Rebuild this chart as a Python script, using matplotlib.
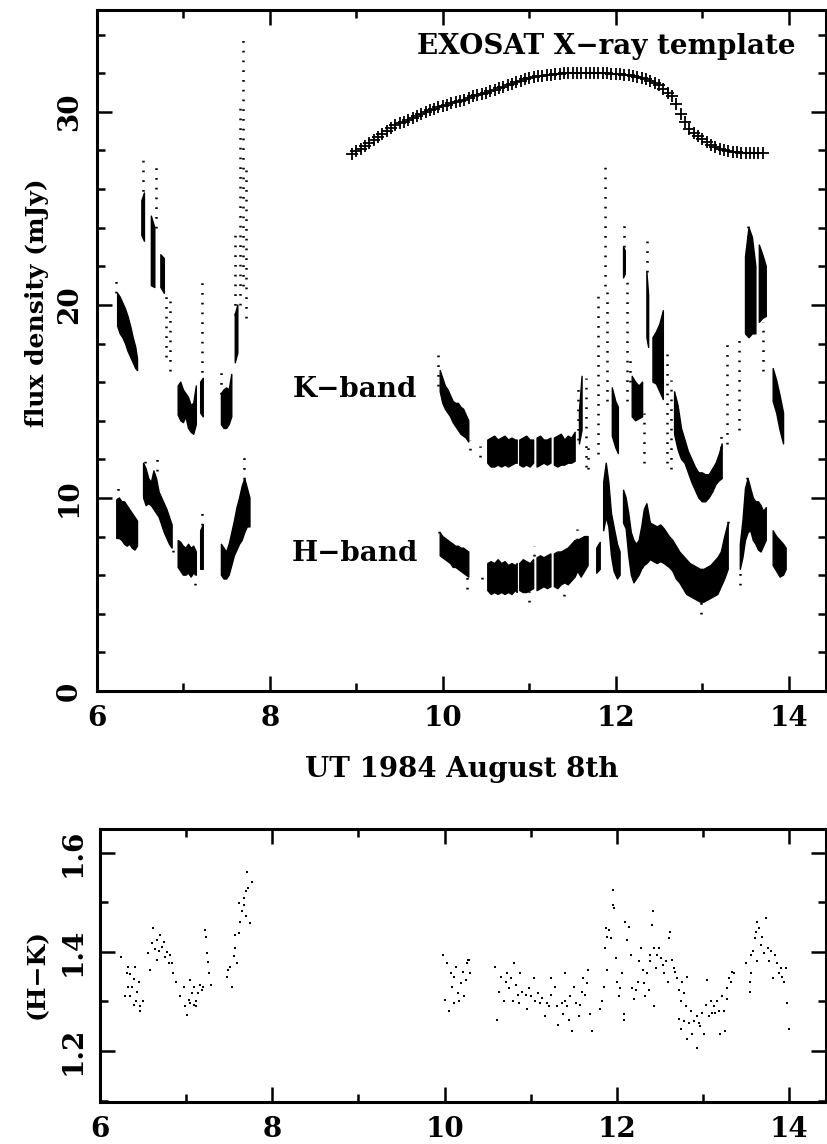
"""
Infrared light curves (K and H band) with the EXOSAT X-ray template,
and the (H-K) colour curve underneath.  UT 1984 August 8th.
"""
import numpy as np
import matplotlib.pyplot as plt
from matplotlib.ticker import MultipleLocator

nan = np.nan
FONT = "DejaVu Serif"

# --- EXOSAT X-ray template (crosses) ---
xray_t = [8.95, 9.00, 9.05, 9.10, 9.15, 9.20, 9.25, 9.30, 9.35, 9.40, 9.45, 9.50,
          9.55, 9.60, 9.65, 9.70, 9.75, 9.80, 9.85, 9.90, 9.95, 10.00, 10.05, 10.10,
          10.15, 10.20, 10.25, 10.30, 10.35, 10.40, 10.45, 10.50, 10.55, 10.60, 10.65,
          10.70, 10.75, 10.80, 10.85, 10.90, 10.95, 11.00, 11.05, 11.10, 11.15, 11.20,
          11.25, 11.30, 11.35, 11.40, 11.45, 11.50, 11.55, 11.60, 11.65, 11.70, 11.75,
          11.80, 11.85, 11.90, 11.95, 12.00, 12.05, 12.10, 12.15, 12.20, 12.25, 12.30,
          12.35, 12.40, 12.45, 12.50, 12.55, 12.60, 12.65, 12.70, 12.75, 12.80, 12.85,
          12.90, 12.95, 13.00, 13.05, 13.10, 13.15, 13.20, 13.25, 13.30, 13.35, 13.40,
          13.45, 13.50, 13.55, 13.60, 13.65, 13.70]
xray_f = [27.8, 27.95, 28.1, 28.25, 28.4, 28.55, 28.7, 28.85, 29.0, 29.15, 29.3, 29.4,
          29.5, 29.6, 29.7, 29.8, 29.9, 30.0, 30.1, 30.15, 30.25, 30.3, 30.35, 30.45,
          30.5, 30.55, 30.6, 30.7, 30.8, 30.85, 30.95, 31.0, 31.1, 31.15, 31.25,
          31.3, 31.4, 31.45, 31.55, 31.6, 31.7, 31.75, 31.8, 31.85, 31.85, 31.9,
          31.9, 31.95, 31.95, 32.0, 32.0, 32.0, 32.0, 32.0, 32.0, 32.0, 32.0,
          32.0, 32.0, 32.0, 31.95, 31.95, 31.95, 31.9, 31.9, 31.85, 31.8, 31.75,
          31.7, 31.6, 31.5, 31.4, 31.2, 31.0, 30.8, 30.4, 29.9, 29.45, 29.1,
          28.9, 28.75, 28.6, 28.45, 28.3, 28.2, 28.1, 28.0, 27.95, 27.9, 27.9,
          27.85, 27.85, 27.85, 27.85, 27.85, 27.85]

# --- K band: densely sampled stretches (time, lower, upper envelope), nan = gap ---
k_t = [6.24, 6.27, 6.30, 6.33, 6.36, 6.39, 6.42, 6.45, 6.47, nan,
       6.52, 6.55, nan, 6.63, 6.67, nan, 6.74, 6.78, nan,
       6.94, 6.97, 7.00, 7.03, 7.06, 7.09, 7.12, 7.15, nan, 7.20, 7.23, nan,
       7.44, 7.47, 7.50, 7.53, 7.56, nan, 7.60, 7.63, nan,
       9.97, 10.00, 10.03, 10.06, 10.09, 10.12, 10.15, 10.18, 10.21, 10.24, 10.27, 10.30, nan,
       10.52, 10.56, 10.60, 10.64, 10.68, 10.72, 10.76, 10.80, 10.84, 10.86, nan,
       10.89, 10.93, 10.97, 11.01, 11.05, nan,
       11.09, 11.13, 11.17, 11.21, 11.25, nan,
       11.29, 11.33, 11.37, 11.41, 11.45, 11.49, 11.53, nan,
       11.58, 11.61, nan, 11.96, 12.00, 12.03, nan, 12.09, 12.11, nan,
       12.19, 12.23, 12.27, 12.31, nan, 12.36, 12.38, nan,
       12.43, 12.47, 12.51, 12.55, nan,
       12.68, 12.72, 12.76, 12.80, 12.84, 12.88, 12.92, 12.96, 13.00, 13.04, 13.08,
       13.12, 13.16, 13.20, 13.23, nan,
       13.50, 13.54, 13.58, 13.62, nan, 13.66, 13.70, 13.74, nan,
       13.82, 13.86, 13.90, 13.94]
k_lo = [18.9, 18.5, 18.3, 18.0, 17.6, 17.3, 17.0, 16.7, 16.6, nan,
        23.6, 23.3, nan, 21.0, 20.9, nan, 20.9, 20.6, nan,
        14.3, 14.0, 13.9, 14.2, 13.6, 13.4, 13.3, 13.8, nan, 14.4, 14.2, nan,
        13.8, 13.6, 13.6, 13.8, 14.2, nan, 17.0, 17.5, nan,
        15.5, 14.9, 14.6, 14.4, 14.2, 13.9, 13.7, 13.5, 13.3, 13.2, 13.1, 12.9, nan,
        11.8, 11.6, 11.6, 11.7, 11.6, 11.7, 11.6, 11.7, 11.8, 11.8, nan,
        11.7, 11.6, 11.7, 11.6, 11.8, nan,
        11.6, 11.7, 11.8, 11.7, 11.8, nan,
        11.7, 11.6, 11.7, 11.7, 11.8, 11.8, 11.9, nan,
        12.8, 13.5, nan, 13.2, 12.6, 12.3, nan, 21.4, 21.6, nan,
        14.2, 14.0, 14.1, 14.2, nan, 18.3, 17.8, nan,
        16.0, 15.9, 15.5, 15.1, nan,
        13.3, 12.5, 12.0, 11.8, 11.3, 10.8, 10.4, 10.0, 9.8, 9.8, 10.0,
        10.3, 10.7, 10.9, 11.0, nan,
        18.5, 18.3, 18.5, 18.5, nan, 19.1, 19.3, 19.4, nan,
        15.0, 14.4, 13.5, 12.8]
k_hi = [20.6, 20.4, 20.1, 19.8, 19.4, 18.9, 18.3, 17.8, 17.2, nan,
        25.4, 25.8, nan, 24.6, 24.0, nan, 22.6, 22.4, nan,
        15.8, 16.0, 15.6, 15.4, 15.2, 14.8, 14.9, 15.8, nan, 16.0, 16.2, nan,
        15.4, 15.6, 15.7, 15.6, 16.4, nan, 19.5, 20.0, nan,
        16.6, 16.2, 15.8, 15.6, 15.3, 15.0, 14.9, 14.9, 14.7, 14.6, 14.3, 14.0, nan,
        13.0, 13.1, 13.2, 13.0, 13.1, 13.2, 13.0, 13.1, 13.0, 13.0, nan,
        13.0, 13.1, 13.2, 13.0, 13.0, nan,
        13.1, 13.2, 13.0, 13.0, 13.1, nan,
        13.1, 13.2, 13.3, 13.0, 13.2, 13.1, 13.4, nan,
        14.5, 16.3, nan, 15.7, 15.0, 14.7, nan, 23.0, 22.8, nan,
        16.3, 16.0, 15.8, 16.0, nan, 21.7, 20.5, nan,
        18.3, 18.6, 19.0, 19.7, nan,
        15.5, 14.8, 13.6, 13.0, 12.4, 12.0, 11.6, 11.3, 11.3, 11.2, 11.2,
        11.5, 11.8, 12.3, 12.8, nan,
        22.5, 24.0, 23.5, 22.0, nan, 23.1, 22.6, 22.0, nan,
        16.7, 16.1, 15.3, 14.4]

# --- K band: sparsely sampled flare streaks ---
ks_t = [6.22, 6.53, 6.68, 6.80, 6.85, 7.21, 7.44, 7.60, 7.66, 7.69, 7.73,
        9.94, 10.31, 10.43, 11.56, 11.65, 11.68, 11.80, 11.87, 11.90, 12.10, 12.13,
        12.16, 12.33, 12.36, 12.59, 12.64, 13.22, 13.29, 13.43, 13.53, 13.70]
ks_lo = [20.6, 25.4, 24.0, 17.3, 16.6, 16.0, 15.4, 19.5, 20.0, 21.0, 19.3,
         15.8, 12.5, 12.1, 13.0, 11.6, 11.5, 12.3, 21.0, 15.0, 23.0, 15.0,
         16.0, 11.8, 21.7, 11.8, 11.5, 12.6, 12.8, 13.5, 22.5, 16.6]
ks_hi = [21.3, 27.6, 27.3, 20.8, 20.6, 21.2, 16.5, 24.0, 30.5, 34.0, 27.0,
         17.8, 13.0, 12.7, 15.8, 16.2, 13.0, 20.6, 27.2, 21.0, 24.4, 21.4,
         17.4, 14.4, 23.5, 17.8, 16.1, 13.5, 18.1, 18.5, 24.4, 19.1]

# --- H band: densely sampled stretches ---
h_t = [6.23, 6.26, 6.29, 6.32, 6.35, 6.38, 6.41, 6.44, 6.47, nan,
       6.54, 6.57, 6.60, 6.63, 6.66, 6.69, 6.72, 6.75, 6.78, 6.81, 6.84, 6.87, nan,
       6.94, 6.97, 7.00, 7.03, 7.06, 7.09, 7.12, 7.15, nan, 7.20, 7.23, nan,
       7.44, 7.47, 7.50, 7.53, 7.56, 7.59, 7.62, 7.65, 7.68, 7.71, 7.74, 7.77, nan,
       9.97, 10.00, 10.03, 10.06, 10.09, 10.12, 10.15, 10.18, 10.21, 10.24, 10.27, 10.30, nan,
       10.52, 10.56, 10.60, 10.64, 10.68, 10.72, 10.76, 10.80, 10.84, 10.86, nan,
       10.89, 10.93, 10.97, 11.01, 11.05, nan,
       11.09, 11.13, 11.17, 11.21, 11.25, nan,
       11.29, 11.33, 11.37, 11.41, 11.45, 11.49, 11.53, 11.56, 11.60, 11.64, 11.68, nan,
       11.78, 11.82, nan,
       11.86, 11.89, 11.92, 11.95, 11.98, 12.02, 12.05, nan,
       12.09, 12.12, 12.15, 12.18, 12.21, 12.24, 12.27, 12.30, 12.33, 12.36, 12.40,
       12.44, 12.48, 12.52, 12.56, 12.59, 12.62, 12.66, 12.70, 12.74, 12.78, 12.82,
       12.86, 12.90, 12.94, 12.98, 13.02, 13.06, 13.10, 13.14, 13.18, 13.22, 13.26, 13.30, nan,
       13.44, 13.47, 13.50, 13.53, 13.56, 13.59, 13.62, 13.65, 13.68, 13.71, 13.74, nan,
       13.82, 13.86, 13.90, 13.94, 13.97]
h_lo = [7.9, 7.9, 7.8, 7.6, 7.5, 7.6, 7.4, 7.3, 7.5, nan,
        10.0, 9.6, 9.7, 9.6, 9.4, 9.2, 9.0, 8.6, 8.2, 7.9, 7.6, 7.4, nan,
        6.4, 6.2, 6.0, 6.0, 6.1, 5.9, 6.1, 6.0, nan, 6.3, 6.3, nan,
        6.0, 5.8, 5.8, 6.0, 6.5, 7.0, 7.3, 7.6, 7.8, 8.2, 8.5, 8.5, nan,
        7.0, 6.9, 6.8, 6.7, 6.6, 6.4, 6.4, 6.3, 6.2, 6.1, 6.0, 5.9, nan,
        5.2, 5.0, 5.1, 5.0, 5.1, 5.0, 5.1, 5.0, 5.2, 5.1, nan,
        5.2, 5.1, 5.1, 5.2, 5.3, nan,
        5.2, 5.3, 5.4, 5.3, 5.4, nan,
        5.4, 5.3, 5.5, 5.6, 5.5, 5.7, 5.9, 6.2, 5.9, 6.2, 6.5, nan,
        6.1, 6.3, nan,
        8.3, 9.0, 8.5, 7.0, 6.2, 5.8, 6.0, nan,
        8.7, 8.4, 7.0, 6.0, 5.6, 5.8, 6.0, 6.3, 6.5, 6.6, 6.8,
        6.7, 6.6, 6.7, 6.6, 6.5, 6.4, 6.2, 5.8, 5.6, 5.3, 5.0,
        4.9, 4.8, 4.7, 4.6, 4.6, 4.7, 4.8, 4.9, 5.0, 5.4, 5.8, 6.3, nan,
        6.3, 6.9, 7.8, 8.2, 8.3, 7.8, 7.6, 7.3, 7.2, 7.5, 7.8, nan,
        6.5, 6.2, 5.9, 6.0, 6.3]
h_hi = [9.9, 10.0, 9.8, 9.8, 9.6, 9.4, 9.2, 9.0, 8.8, nan,
        11.8, 11.5, 11.0, 10.8, 11.4, 11.0, 10.3, 10.0, 9.7, 9.4, 9.0, 8.6, nan,
        7.8, 7.7, 7.5, 7.4, 7.6, 7.4, 7.5, 7.2, nan, 8.3, 8.6, nan,
        7.6, 7.4, 7.2, 7.6, 8.2, 8.8, 9.5, 10.0, 10.6, 11.0, 10.5, 10.0, nan,
        8.2, 8.0, 7.9, 7.8, 7.7, 7.6, 7.5, 7.5, 7.4, 7.4, 7.3, 7.2, nan,
        6.6, 6.7, 6.6, 6.8, 6.6, 6.7, 6.5, 6.6, 6.5, 6.6, nan,
        6.6, 6.8, 6.7, 6.6, 6.8, nan,
        6.9, 7.0, 6.9, 7.0, 7.1, nan,
        7.1, 7.2, 7.2, 7.3, 7.4, 7.6, 7.8, 7.8, 7.9, 8.0, 8.0, nan,
        7.4, 7.7, nan,
        10.8, 11.8, 10.8, 9.2, 8.5, 7.6, 7.2, nan,
        10.4, 10.0, 9.2, 8.2, 7.8, 7.6, 7.8, 8.5, 9.4, 9.7, 8.7,
        8.6, 8.5, 8.6, 8.4, 8.2, 8.0, 7.8, 7.5, 7.2, 7.0, 6.8,
        6.6, 6.5, 6.4, 6.3, 6.3, 6.4, 6.5, 6.7, 6.9, 7.2, 8.0, 8.7, nan,
        7.6, 8.8, 10.5, 11.0, 10.5, 10.0, 9.8, 9.8, 9.6, 9.3, 9.5, nan,
        8.3, 8.0, 7.8, 7.6, 7.4]

# --- H band: sparse points/streaks ---
hs_t = [6.25, 6.56, 6.69, 6.88, 7.14, 7.22, 7.70, 9.96, 10.28, 10.45, 11.00, 11.05,
        11.40, 11.55, 12.98, 13.30, 13.44, 13.52]
hs_lo = [9.9, 11.8, 11.4, 7.2, 5.5, 8.6, 11.0, 8.2, 5.3, 5.8, 4.6, 7.0,
         4.9, 7.8, 4.0, 8.7, 5.5, 11.0]
hs_hi = [10.5, 12.3, 12.2, 7.6, 6.0, 9.2, 12.5, 8.6, 5.9, 6.0, 5.2, 7.5,
         5.4, 8.4, 4.6, 9.0, 6.1, 11.3]

# --- (H-K) colour ---
hk_t = [6.24, 6.29, 6.31, 6.33, 6.35, 6.37, 6.39, 6.41, 6.43, 6.45, 6.46, 6.39, 6.35,
        6.50, 6.46, 6.42, 6.33,
        6.58, 6.56, 6.62, 6.60, 6.64, 6.66, 6.68, 6.70, 6.72, 6.74, 6.76, 6.78, 6.80,
        6.81, 6.83, 6.85, 6.88, 6.66,
        6.93, 6.97, 7.01, 6.99, 7.03, 7.05, 7.07, 7.09, 7.11, 7.12, 7.14, 7.16, 7.18,
        7.20, 7.22, 7.23, 7.24, 7.25, 7.27, 7.29, 7.05, 7.09,
        7.47, 7.49, 7.51, 7.53, 7.55, 7.57, 7.59, 7.57, 7.61, 7.63, 7.65, 7.61, 7.67,
        7.69, 7.70, 7.72, 7.74, 7.76, 7.71, 7.67,
        9.98, 10.03, 10.07, 10.09, 10.11, 10.13, 10.15, 10.19, 10.21, 10.05, 10.11,
        10.23, 10.27, 10.25, 10.01, 10.17, 10.26, 10.30, 10.28,
        10.59, 10.61, 10.63, 10.65, 10.69, 10.71, 10.73, 10.75, 10.77, 10.79, 10.81,
        10.83, 10.85, 10.86, 10.88, 10.90, 10.94, 10.96, 10.98, 11.00, 11.04, 11.05,
        11.09, 11.11, 11.13, 11.17, 11.21, 11.23, 11.24, 11.28, 11.30, 11.32, 11.36,
        11.38, 11.40, 11.42, 11.44, 11.46, 11.48, 11.50, 11.52, 11.56, 11.57, 11.59,
        11.61, 11.63, 11.65, 11.67, 11.71, 11.69, 11.19, 11.40,
        11.81, 11.83, 11.85, 11.86, 11.87, 11.89, 11.91, 11.93, 11.95, 11.95, 11.97,
        11.99, 12.00, 12.02, 12.04, 12.06, 12.08, 12.08, 12.10, 12.12, 12.14, 12.16,
        12.18, 11.89,
        12.20, 12.22, 12.24, 12.26, 12.28, 12.30, 12.31, 12.33, 12.35, 12.37, 12.39,
        12.41, 12.42, 12.43, 12.45, 12.47, 12.49, 12.51, 12.53, 12.55, 12.57, 12.59,
        12.60, 12.62, 12.64, 12.66, 12.68, 12.70, 12.43, 12.39,
        12.72, 12.74, 12.76, 12.78, 12.80, 12.82, 12.72, 12.74, 12.78, 12.82, 12.84,
        12.86, 12.87, 12.89, 12.93, 12.93, 12.95, 12.97, 12.99, 13.01, 13.03, 13.05,
        13.07, 13.09, 13.11, 13.13, 13.14, 13.16, 13.18, 13.20, 13.22, 13.24, 13.26,
        13.28, 13.30, 13.32, 13.34, 13.36, 13.28,
        13.50, 13.54, 13.56, 13.54, 13.58, 13.60, 13.62, 13.63, 13.65, 13.67, 13.69,
        13.71, 13.73, 13.75, 13.77, 13.79, 13.81, 13.84, 13.86, 13.88, 13.90, 13.92,
        13.94, 13.96, 13.98, 14.00, 13.56, 13.63]
hk_v = [1.39, 1.31, 1.357, 1.37, 1.355, 1.33, 1.345, 1.37, 1.32, 1.34, 1.29, 1.293, 1.31,
        1.30, 1.28, 1.30, 1.33,
        1.364, 1.397, 1.448, 1.418, 1.405, 1.425, 1.401, 1.435, 1.41, 1.42, 1.39, 1.40,
        1.377, 1.394, 1.377, 1.357, 1.34, 1.384,
        1.31, 1.33, 1.273, 1.29, 1.303, 1.344, 1.317, 1.33, 1.30, 1.29, 1.317, 1.334,
        1.324, 1.33, 1.445, 1.43, 1.398, 1.38, 1.357, 1.334, 1.297, 1.293,
        1.35, 1.364, 1.37, 1.33, 1.391, 1.408, 1.377, 1.435, 1.438, 1.461, 1.482, 1.499,
        1.495, 1.472, 1.522, 1.529, 1.458, 1.542, 1.562, 1.509,
        1.394, 1.377, 1.357, 1.33, 1.35, 1.37, 1.317, 1.337, 1.36, 1.28, 1.297,
        1.31, 1.384, 1.344, 1.303, 1.30, 1.377, 1.357, 1.384,
        1.370, 1.262, 1.32, 1.35, 1.30, 1.34, 1.357, 1.327, 1.347, 1.30, 1.377,
        1.334, 1.313, 1.297, 1.357, 1.32, 1.313, 1.284, 1.327, 1.31, 1.347, 1.30,
        1.317, 1.297, 1.307, 1.27, 1.29, 1.347, 1.313, 1.33, 1.29, 1.253, 1.297,
        1.274, 1.357, 1.29, 1.262, 1.31, 1.24, 1.33, 1.297, 1.27, 1.293, 1.32,
        1.347, 1.313, 1.337, 1.364, 1.24, 1.274, 1.297, 1.30,
        1.284, 1.30, 1.33, 1.408, 1.448, 1.431, 1.445, 1.428, 1.495, 1.525, 1.489,
        1.388, 1.34, 1.31, 1.327, 1.357, 1.274, 1.262, 1.46, 1.425, 1.45, 1.394,
        1.327, 1.364,
        1.304, 1.324, 1.34, 1.381, 1.408, 1.364, 1.337, 1.31, 1.357, 1.324, 1.381,
        1.455, 1.483, 1.408, 1.367, 1.394, 1.408, 1.388, 1.374, 1.357, 1.381, 1.34,
        1.428, 1.441, 1.384, 1.367, 1.36, 1.347, 1.29, 1.394,
        1.324, 1.30, 1.34, 1.317, 1.29, 1.35, 1.264, 1.244, 1.26, 1.224, 1.257,
        1.28, 1.234, 1.26, 1.206, 1.27, 1.257, 1.25, 1.277, 1.234, 1.293, 1.344,
        1.27, 1.30, 1.277, 1.29, 1.277, 1.30, 1.28, 1.234, 1.31, 1.28, 1.24,
        1.327, 1.347, 1.34, 1.36, 1.357, 1.304,
        1.377, 1.34, 1.357, 1.32, 1.401, 1.428, 1.441, 1.461, 1.448, 1.414, 1.431,
        1.398, 1.468, 1.408, 1.381, 1.401, 1.347, 1.394, 1.377, 1.357, 1.367, 1.35,
        1.34, 1.367, 1.297, 1.244, 1.394, 1.381]

TXT = dict(fontsize=20, family=FONT, fontweight="bold")
YLAB = dict(fontsize=18, family=FONT, fontweight="bold")


def style_axis(ax, ymajor, yminor):
    ax.xaxis.set_major_locator(MultipleLocator(2))
    ax.xaxis.set_minor_locator(MultipleLocator(1))
    ax.yaxis.set_major_locator(MultipleLocator(ymajor))
    ax.yaxis.set_minor_locator(MultipleLocator(yminor))
    ax.tick_params(which="both", direction="in", top=True, right=True, width=1.8,
                   labelsize=20, pad=10)
    ax.tick_params(which="major", length=11)
    ax.tick_params(which="minor", length=6)
    for lab in ax.get_yticklabels():
        lab.set_rotation(90)
        lab.set_va("center")
    for lab in ax.get_xticklabels() + ax.get_yticklabels():
        lab.set_family(FONT)
        lab.set_fontweight("bold")
    for s in ax.spines.values():
        s.set_linewidth(2.2)


def main():
    fig = plt.figure(figsize=(8.28, 11.44), dpi=100)
    ax = fig.add_axes([0.117, 0.396, 0.8805, 0.5953])
    ax2 = fig.add_axes([0.1208, 0.0367, 0.877, 0.2386])

    # --- top panel: light curves ---
    ax.fill_between(k_t, k_lo, k_hi, color="black", lw=1.0)
    ax.fill_between(h_t, h_lo, h_hi, color="black", lw=1.0)
    dots = (0, (0.7, 3.2))
    ax.vlines(ks_t, ks_lo, ks_hi, color="black", lw=1.8, linestyles=[dots])
    ax.vlines(hs_t, hs_lo, hs_hi, color="black", lw=1.8, linestyles=[dots])
    ax.plot(xray_t, xray_f, "+", color="black", ms=9, mew=1.3)

    ax.text(8.98, 15.6, "K\u2212band", ha="center", va="center", **TXT)
    ax.text(8.98, 7.1, "H\u2212band", ha="center", va="center", **TXT)
    ax.text(14.08, 33.4, "EXOSAT X\u2212ray template", ha="right", va="center", **TXT)

    ax.set_xlim(6, 14.43)
    ax.set_ylim(0, 35.28)
    style_axis(ax, 10, 2)
    ax.set_ylabel("flux density (mJy)", **YLAB)
    ax.yaxis.set_label_coords(-0.066, 0.57)

    fig.text(0.558, 0.327, "UT 1984 August 8th", ha="center", va="center", **TXT)

    # --- bottom panel: colour ---
    ax2.plot(hk_t, hk_v, "s", color="black", ms=2.0, mew=0)
    ax2.set_xlim(6, 14.43)
    ax2.set_ylim(1.097, 1.648)
    style_axis(ax2, 0.2, 0.1)
    ax2.set_ylabel("(H\u2212K)", **YLAB)
    ax2.yaxis.set_label_coords(-0.07, 0.47)

    fig.savefig("out.png", dpi=100, facecolor="white")


if __name__ == "__main__":
    main()
